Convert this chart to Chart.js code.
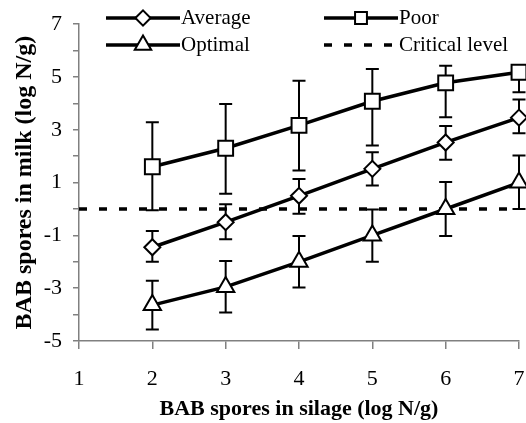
<!DOCTYPE HTML>
<html>
<head>
    <script src="https://cdn.jsdelivr.net/npm/chart.js"></script>
    <style>
        body { margin: 0; background: white; }
        canvas { display: block; }
    </style>
</head>
<body>
    <canvas id="sporeChart" width="526" height="423"></canvas>

    <script>
        // values (log N/g)
        const silage = [2, 3, 4, 5, 6, 7];

        const averageMean = [-1.45, -0.5, 0.5, 1.52, 2.52, 3.46];
        const averageHigh = [-0.83, 0.18, 1.14, 2.15, 3.14, 4.15];
        const averageLow = [-2.0, -1.15, -0.18, 0.89, 1.87, 2.87];

        const poorMean = [1.6, 2.3, 3.17, 4.08, 4.78, 5.18];
        const poorHigh = [3.29, 3.98, 4.86, 5.3, 5.43, 5.4];
        const poorLow = [-0.05, 0.58, 1.46, 2.41, 3.48, 4.42];

        const optimalMean = [-3.64, -2.95, -2.0, -1.0, 0.0, 1.0];
        const optimalHigh = [-2.72, -1.97, -1.02, -0.02, 1.02, 2.03];
        const optimalLow = [-4.56, -3.92, -2.97, -2.0, -1.02, 0.0];

        const criticalX = [1, 7];
        const criticalLevel = [0, 0];

        const xTicks = [1, 2, 3, 4, 5, 6, 7];
        const yLabels = [-5, -3, -1, 1, 3, 5, 7];

        const serif = "'Liberation Serif', 'Times New Roman', serif";

        function points(xs, ys) {
            return xs.map((x, i) => ({ x: x, y: ys[i] }));
        }

        function series(label, mean, style, radius) {
            return {
                label: label,
                data: points(silage, mean),
                showLine: true,
                borderColor: 'black',
                borderWidth: 3.5,
                pointStyle: style,
                pointRadius: radius,
                pointBorderWidth: 2,
                pointBackgroundColor: 'white',
                pointBorderColor: 'black',
                clip: false
            };
        }

        const errors = {
            0: [averageHigh, averageLow],
            1: [poorHigh, poorLow],
            2: [optimalHigh, optimalLow]
        };

        const errorBars = {
            id: 'errorBars',
            beforeDatasetsDraw(chart) {
                const ctx = chart.ctx;
                const xs = chart.scales.x, ys = chart.scales.y;
                ctx.save();
                ctx.strokeStyle = 'black';
                ctx.lineWidth = 2;
                Object.keys(errors).forEach(k => {
                    const [hi, lo] = errors[k];
                    silage.forEach((x, i) => {
                        const px = xs.getPixelForValue(x);
                        const top = ys.getPixelForValue(hi[i]);
                        const bot = ys.getPixelForValue(lo[i]);
                        ctx.beginPath();
                        ctx.moveTo(px, top); ctx.lineTo(px, bot);
                        ctx.moveTo(px - 6.5, top); ctx.lineTo(px + 6.5, top);
                        ctx.moveTo(px - 6.5, bot); ctx.lineTo(px + 6.5, bot);
                        ctx.stroke();
                    });
                });
                ctx.restore();
            }
        };

        // legend in two columns, drawn over the top of the plot like the original
        const legendSlots = [
            { ds: 0, x: 106, y: 18 },
            { ds: 1, x: 324, y: 18 },
            { ds: 2, x: 106, y: 45 },
            { ds: 3, x: 324, y: 45 }
        ];

        const sideLegend = {
            id: 'sideLegend',
            afterDraw(chart) {
                const ctx = chart.ctx;
                ctx.save();
                legendSlots.forEach(s => {
                    const d = chart.data.datasets[s.ds];
                    const len = 74;
                    ctx.strokeStyle = 'black';
                    ctx.lineWidth = d.borderWidth;
                    ctx.setLineDash(d.borderDash || []);
                    ctx.beginPath();
                    ctx.moveTo(s.x, s.y);
                    ctx.lineTo(s.x + len, s.y);
                    ctx.stroke();
                    ctx.setLineDash([]);
                    if (d.pointRadius > 0) {
                        ctx.fillStyle = 'white';
                        ctx.lineWidth = 2;
                        Chart.helpers.drawPoint(ctx, {
                            pointStyle: d.pointStyle,
                            radius: d.pointRadius * (d.pointStyle === 'rect' ? 0.8 : 0.95),
                            rotation: 0,
                            borderWidth: 2
                        }, s.x + len / 2, s.y);
                    }
                    ctx.fillStyle = 'black';
                    ctx.font = '21px ' + serif;
                    ctx.textBaseline = 'middle';
                    ctx.textAlign = 'left';
                    ctx.fillText(d.label, s.x + len + 1, s.y);
                });
                ctx.restore();
            }
        };

        new Chart(document.getElementById('sporeChart'), {
            type: 'scatter',
            data: {
                datasets: [
                    series('Average', averageMean, 'rectRot', 8),
                    series('Poor', poorMean, 'rect', 10.5),
                    series('Optimal', optimalMean, 'triangle', 10),
                    {
                        label: 'Critical level',
                        data: points(criticalX, criticalLevel),
                        showLine: true,
                        borderColor: 'black',
                        borderWidth: 3.5,
                        borderDash: [8, 12],
                        pointRadius: 0,
                        clip: false
                    }
                ]
            },
            options: {
                responsive: false,
                animation: false,
                layout: {
                    autoPadding: false,
                    padding: { top: 23, right: 7, left: 0, bottom: 0 }
                },
                plugins: {
                    legend: { display: false },
                    tooltip: { enabled: false }
                },
                scales: {
                    x: {
                        type: 'linear',
                        min: 1,
                        max: 7,
                        afterBuildTicks: s => { s.ticks = xTicks.map(v => ({ value: v })); },
                        afterFit: s => { s.height = 82; s.paddingLeft = 0; s.paddingRight = 0; },
                        ticks: {
                            color: 'black',
                            font: { family: serif, size: 22 },
                            padding: 17
                        },
                        grid: {
                            drawOnChartArea: false,
                            drawTicks: true,
                            tickLength: 8,
                            color: '#808080',
                            lineWidth: 1.5
                        },
                        border: { color: '#808080', width: 1.5 },
                        title: {
                            display: true,
                            text: 'BAB spores in silage (log N/g)',
                            color: 'black',
                            font: { family: serif, size: 22, weight: 'bold' },
                            padding: { top: 0, bottom: 0 }
                        }
                    },
                    y: {
                        min: -5,
                        max: 7,
                        afterFit: s => { s.width = 79; },
                        ticks: {
                            stepSize: 1,
                            autoSkip: false,
                            color: 'black',
                            font: { family: serif, size: 22 },
                            padding: 11,
                            callback: v => (yLabels.includes(v) ? String(v) : '')
                        },
                        grid: {
                            drawOnChartArea: false,
                            drawTicks: true,
                            tickLength: 6,
                            color: '#808080',
                            lineWidth: 1.5
                        },
                        border: { color: '#808080', width: 1.5 },
                        title: {
                            display: true,
                            text: 'BAB spores in milk (log N/g)',
                            color: 'black',
                            font: { family: serif, size: 24, weight: 'bold' },
                            padding: { top: 10, bottom: 0 }
                        }
                    }
                }
            },
            plugins: [errorBars, sideLegend]
        });
    </script>
</body>
</html>
